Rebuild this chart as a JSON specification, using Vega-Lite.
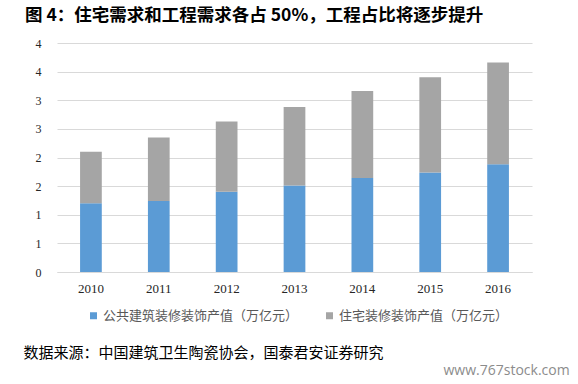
{
  "$schema": "https://vega.github.io/schema/vega-lite/v6.json",
  "width": 475,
  "height": 229,
  "autosize": {"type": "none"},
  "padding": {"left": 57, "top": 43, "right": 46, "bottom": 112},
  "background": "white",
  "title": {
    "text": "图 4：住宅需求和工程需求各占 50%，工程占比将逐步提升",
    "anchor": "start",
    "frame": "group",
    "orient": "top",
    "dx": -32,
    "offset": 13,
    "font": "Noto Sans CJK SC",
    "fontSize": 17.5,
    "fontWeight": "bold",
    "color": "#000000"
  },
  "data": {
    "values": [
      {"year": "2010", "type": "公共建筑装修装饰产值（万亿元）", "value": 1.20},
      {"year": "2011", "type": "公共建筑装修装饰产值（万亿元）", "value": 1.24},
      {"year": "2012", "type": "公共建筑装修装饰产值（万亿元）", "value": 1.40},
      {"year": "2013", "type": "公共建筑装修装饰产值（万亿元）", "value": 1.51},
      {"year": "2014", "type": "公共建筑装修装饰产值（万亿元）", "value": 1.64},
      {"year": "2015", "type": "公共建筑装修装饰产值（万亿元）", "value": 1.74},
      {"year": "2016", "type": "公共建筑装修装饰产值（万亿元）", "value": 1.88},
      {"year": "2010", "type": "住宅装修装饰产值（万亿元）", "value": 0.90},
      {"year": "2011", "type": "住宅装修装饰产值（万亿元）", "value": 1.11},
      {"year": "2012", "type": "住宅装修装饰产值（万亿元）", "value": 1.23},
      {"year": "2013", "type": "住宅装修装饰产值（万亿元）", "value": 1.37},
      {"year": "2014", "type": "住宅装修装饰产值（万亿元）", "value": 1.52},
      {"year": "2015", "type": "住宅装修装饰产值（万亿元）", "value": 1.66},
      {"year": "2016", "type": "住宅装修装饰产值（万亿元）", "value": 1.78}
    ]
  },
  "mark": {"type": "bar"},
  "encoding": {
    "x": {
      "field": "year",
      "type": "nominal",
      "scale": {"paddingInner": 0.68, "paddingOuter": 0.34},
      "axis": {
        "title": "数据来源：中国建筑卫生陶瓷协会，国泰君安证券研究",
        "titleX": -34,
        "titleY": 80,
        "titleAlign": "left",
        "titleAnchor": null,
        "titleBaseline": "middle",
        "titleFont": "Noto Sans CJK SC",
        "titleFontSize": 15,
        "titleFontWeight": "normal",
        "titleColor": "#000000",
        "labelAngle": 0,
        "labelFont": "Liberation Serif",
        "labelFontSize": 13,
        "labelColor": "#262626",
        "labelPadding": 10,
        "ticks": false,
        "domainColor": "#d9d9d9",
        "domainWidth": 1
      }
    },
    "y": {
      "field": "value",
      "type": "quantitative",
      "stack": "zero",
      "scale": {"domain": [0, 4], "nice": false},
      "axis": {
        "values": [0, 0.5, 1, 1.5, 2, 2.5, 3, 3.5, 4],
        "format": ".0f",
        "title": "www.767stock.com",
        "titleAngle": 0,
        "titleX": 386,
        "titleY": 327,
        "titleAlign": "left",
        "titleBaseline": "middle",
        "titleFont": "Open Sans",
        "titleFontSize": 14,
        "titleFontWeight": "normal",
        "titleColor": "#8c8c8c",
        "labelFont": "Liberation Serif",
        "labelFontSize": 12,
        "labelColor": "#262626",
        "labelPadding": 16,
        "ticks": false,
        "domain": false,
        "grid": true,
        "gridColor": "#d9d9d9",
        "gridWidth": 1
      }
    },
    "color": {
      "field": "type",
      "type": "nominal",
      "scale": {
        "domain": ["公共建筑装修装饰产值（万亿元）", "住宅装修装饰产值（万亿元）"],
        "range": ["#5b9bd5", "#a5a5a5"]
      },
      "legend": {
        "title": null,
        "orient": "none",
        "legendX": 30,
        "legendY": 266,
        "direction": "horizontal",
        "symbolType": "square",
        "symbolSize": 49,
        "symbolStrokeWidth": 0,
        "labelFont": "Noto Sans CJK SC",
        "labelFontSize": 13,
        "labelColor": "#595959",
        "labelOffset": 3,
        "columnPadding": 24,
        "labelLimit": 300,
        "padding": 0
      }
    },
    "order": {"field": "type", "sort": "descending"}
  },
  "config": {
    "view": {"stroke": null}
  }
}
